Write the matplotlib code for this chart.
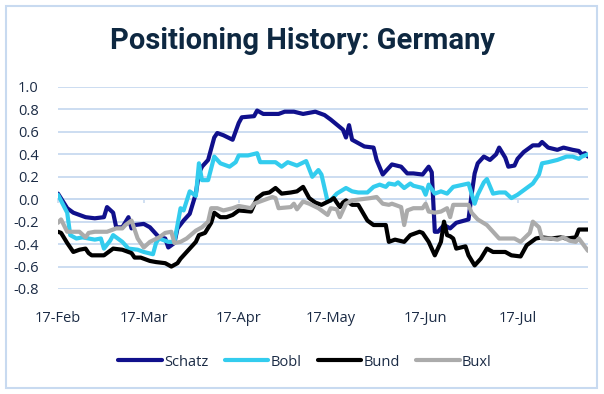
import matplotlib
matplotlib.use("Agg")
import matplotlib.pyplot as plt
import pandas as pd
from matplotlib.patches import Rectangle

YEAR = "2025"

schatz_dates = ["02-17","02-20","02-22","02-26","03-01","03-04","03-05","03-07","03-08","03-10",
                "03-12","03-13","03-14","03-17","03-19","03-22","03-24","03-25","03-27","03-28",
                "03-30","04-01","04-03","04-04","04-05","04-07","04-09","04-10","04-12","04-15",
                "04-17","04-18","04-22","04-23","04-25","04-30","05-02","05-05","05-08","05-12",
                "05-15","05-17","05-21","05-22","05-23","05-24","05-26","05-28","05-31","06-01",
                "06-03","06-05","06-06","06-09","06-11","06-13","06-16","06-18","06-19","06-20",
                "06-21","06-23","06-25","06-27","07-01","07-02","07-03","07-04","07-06","07-08",
                "07-10","07-11","07-13","07-14","07-16","07-17","07-19","07-22","07-24","07-25",
                "07-27","07-30","08-01","08-04","08-06","08-07","08-08","08-09"]
schatz = [0.05,-0.08,-0.12,-0.16,-0.17,-0.16,-0.07,-0.12,-0.25,-0.25,
          -0.16,-0.26,-0.23,-0.22,-0.25,-0.34,-0.35,-0.43,-0.39,-0.26,
          -0.19,-0.13,0.05,0.23,0.29,0.35,0.55,0.59,0.57,0.53,
          0.68,0.73,0.74,0.79,0.76,0.76,0.78,0.78,0.76,0.78,
          0.75,0.71,0.62,0.55,0.66,0.53,0.50,0.47,0.46,0.35,
          0.22,0.28,0.31,0.29,0.23,0.23,0.22,0.29,0.24,-0.29,
          -0.29,-0.23,-0.26,-0.21,-0.18,0.04,0.23,0.32,0.38,0.35,
          0.40,0.46,0.37,0.29,0.30,0.36,0.42,0.48,0.48,0.51,
          0.46,0.44,0.46,0.44,0.43,0.40,0.41,0.38]

bobl_dates = ["02-17","02-20","02-21","02-23","02-25","02-27","03-01","03-03","03-04","03-06",
              "03-07","03-10","03-12","03-15","03-17","03-20","03-21","03-22","03-25","03-27",
              "03-29","03-30","04-01","04-03","04-04","04-05","04-07","04-09","04-11","04-14",
              "04-16","04-17","04-20","04-23","04-24","04-26","04-29","05-01","05-03","05-06",
              "05-09","05-11","05-13","05-14","05-16","05-17","05-19","05-22","05-24","05-26",
              "05-29","05-31","06-02","06-04","06-05","06-07","06-08","06-10","06-12","06-13",
              "06-16","06-17","06-18","06-20","06-22","06-24","06-26","07-01","07-03","07-04",
              "07-06","07-07","07-09","07-11","07-13","07-15","07-17","07-19","07-22","07-24",
              "07-25","07-27","07-30","08-02","08-04","08-06","08-07","08-09"]
bobl = [0.04,-0.12,-0.32,-0.35,-0.34,-0.35,-0.36,-0.35,-0.44,-0.37,
        -0.32,-0.38,-0.44,-0.45,-0.47,-0.49,-0.39,-0.35,-0.38,-0.38,
        -0.08,-0.10,0.07,0.03,0.32,0.17,0.17,0.38,0.32,0.29,
        0.33,0.39,0.39,0.41,0.33,0.33,0.33,0.29,0.33,0.30,
        0.34,0.20,0.26,0.22,-0.02,-0.01,0.05,0.10,0.07,0.06,
        0.06,0.11,0.13,0.11,0.14,0.13,0.15,0.10,0.14,0.12,
        0.10,0.04,0.13,0.05,0.07,0.05,0.11,0.14,-0.04,0.04,
        0.15,0.18,0.05,0.06,0.06,0.01,0.04,0.08,0.14,0.22,
        0.32,0.33,0.35,0.38,0.38,0.36,0.38,0.40]

bund_dates = ["02-17","02-18","02-20","02-22","02-24","02-26","02-27","02-28","03-04","03-07",
              "03-10","03-13","03-14","03-16","03-19","03-21","03-24","03-26","03-28","03-29",
              "03-31","04-03","04-04","04-06","04-08","04-09","04-11","04-13","04-15","04-17",
              "04-21","04-23","04-25","04-27","04-29","05-01","05-04","05-06","05-08","05-10",
              "05-12","05-14","05-17","05-18","05-20","05-21","05-22","05-24","05-26","05-29",
              "05-31","06-04","06-05","06-07","06-10","06-12","06-15","06-16","06-18","06-20",
              "06-22","06-23","06-24","06-25","06-26","06-27","06-30","07-01","07-03","07-05",
              "07-07","07-09","07-13","07-15","07-18","07-20","07-23","07-25","07-28","07-31",
              "08-02","08-05","08-06","08-09"]
bund = [-0.29,-0.30,-0.39,-0.47,-0.45,-0.44,-0.48,-0.50,-0.50,-0.44,
        -0.45,-0.48,-0.52,-0.52,-0.55,-0.56,-0.57,-0.60,-0.57,-0.53,
        -0.47,-0.38,-0.32,-0.30,-0.21,-0.12,-0.16,-0.16,-0.14,-0.10,
        -0.11,0.01,0.05,0.06,0.10,0.05,0.06,0.07,0.11,0.01,
        -0.03,-0.05,-0.01,0.01,-0.07,-0.03,-0.01,-0.05,-0.05,-0.19,
        -0.23,-0.23,-0.38,-0.36,-0.38,-0.32,-0.29,-0.30,-0.38,-0.50,
        -0.38,-0.20,-0.32,-0.33,-0.35,-0.44,-0.42,-0.50,-0.59,-0.53,
        -0.44,-0.47,-0.47,-0.50,-0.51,-0.41,-0.35,-0.34,-0.35,-0.34,
        -0.35,-0.34,-0.27,-0.27]

buxl_dates = ["02-17","02-18","02-20","02-23","02-24","02-26","02-27","03-01","03-03","03-05",
              "03-08","03-10","03-11","03-13","03-15","03-17","03-19","03-22","03-24","03-26",
              "03-27","03-29","03-31","04-03","04-05","04-07","04-08","04-10","04-12","04-15",
              "04-17","04-21","04-22","04-25","04-28","04-29","04-30","05-04","05-05","05-06",
              "05-08","05-10","05-13","05-16","05-17","05-19","05-20","05-22","05-24","05-27",
              "05-30","06-01","06-03","06-05","06-06","06-09","06-10","06-11","06-13","06-16",
              "06-17","06-18","06-20","06-22","06-24","06-25","06-26","07-01","07-02","07-04",
              "07-07","07-09","07-11","07-16","07-18","07-21","07-22","07-24","07-25","07-28",
              "07-30","08-01","08-03","08-05","08-06","08-09"]
buxl = [-0.21,-0.18,-0.29,-0.29,-0.29,-0.34,-0.30,-0.29,-0.29,-0.29,
        -0.26,-0.26,-0.23,-0.19,-0.35,-0.43,-0.38,-0.34,-0.30,-0.29,
        -0.39,-0.38,-0.35,-0.28,-0.25,-0.20,-0.08,-0.08,-0.10,-0.08,
        -0.06,-0.08,-0.04,-0.01,0.02,0.01,-0.08,-0.07,-0.04,-0.09,
        -0.02,-0.04,-0.08,-0.14,-0.08,-0.09,-0.16,-0.04,-0.01,0.00,
        0.01,0.02,-0.04,-0.05,-0.04,-0.07,-0.23,-0.10,-0.08,-0.08,
        -0.04,-0.11,-0.12,-0.11,-0.08,-0.16,-0.05,-0.05,-0.12,-0.18,
        -0.23,-0.29,-0.35,-0.35,-0.38,-0.30,-0.20,-0.25,-0.35,-0.35,
        -0.36,-0.34,-0.37,-0.38,-0.35,-0.46]

series_names = ["Schatz", "Bobl", "Bund", "Buxl"]
series_colors = ["#10108C", "#33CCEE", "#000000", "#ABABAB"]
tick_dates = ["02-17", "03-17", "04-17", "05-17", "06-17", "07-17"]
y_ticks = [-0.8, -0.6, -0.4, -0.2, 0.0, 0.2, 0.4, 0.6, 0.8, 1.0]
title = "Positioning History: Germany"

def to_dt(lst):
    return pd.to_datetime([f"{YEAR}-{d}" for d in lst])

TEXT = "#1B2B45"
GRID = "#C8DAF0"
FONT = ["Open Sans", "DejaVu Sans"]

fig = plt.figure(figsize=(6.04, 3.94), dpi=100)
fig.patches.append(Rectangle((6/604, 6/394), 591/604, 382/394, transform=fig.transFigure,
                             fill=False, edgecolor=GRID, lw=1.5))

ax = fig.add_axes([58/604, 1-289/394, (588-58)/604, (289-87)/394])
data = [(schatz_dates, schatz), (bobl_dates, bobl), (bund_dates, bund), (buxl_dates, buxl)]
for (dts, vals), name, col in zip(data, series_names, series_colors):
    ax.plot(to_dt(dts), vals, color=col, lw=3.0, label=name, solid_capstyle="round",
            solid_joinstyle="round", zorder=3)

ax.set_ylim(y_ticks[0], y_ticks[-1])
ax.set_xlim(to_dt(["02-17"])[0], to_dt(["08-09"])[0])
ax.set_yticks(y_ticks)
ax.set_yticklabels([f"{v:.1f}" for v in y_ticks], fontsize=10.5, color=TEXT, family=FONT)
ax.set_xticks(to_dt(tick_dates))
ax.set_xticklabels([pd.Timestamp(f"{YEAR}-{d}").strftime("%d-%b") for d in tick_dates],
                   fontsize=10.5, color=TEXT, family=FONT)
ax.tick_params(axis="x", length=0, pad=16)
ax.tick_params(axis="y", length=0, pad=14)
ax.grid(axis="y", color=GRID, lw=1.3, zorder=0)
for s in ax.spines.values():
    s.set_visible(False)

zero_frac = (0 - y_ticks[0]) / (y_ticks[-1] - y_ticks[0])
sec = ax.secondary_xaxis(zero_frac)
sec.set_xticks(to_dt(tick_dates))
sec.tick_params(axis="x", labelbottom=False, labeltop=False, length=3, color=GRID, width=1.2)
for s in sec.spines.values():
    s.set_color(GRID)
    s.set_linewidth(1.3)

fig.text(0.5, 1-41/394, title, ha="center", va="center", fontsize=21, fontweight="bold",
         color="#0E2841", family=["Roboto", "DejaVu Sans"])

leg = fig.legend(loc="center", bbox_to_anchor=(0.505, 1-362/394), ncol=4, frameon=False,
                 handlelength=3.0, handletextpad=0.15, columnspacing=1.1,
                 prop={"family": FONT, "size": 10.5})
for t in leg.get_texts():
    t.set_color(TEXT)
for h in leg.get_lines():
    h.set_linewidth(3.0)

fig.savefig("out.png", dpi=100)
